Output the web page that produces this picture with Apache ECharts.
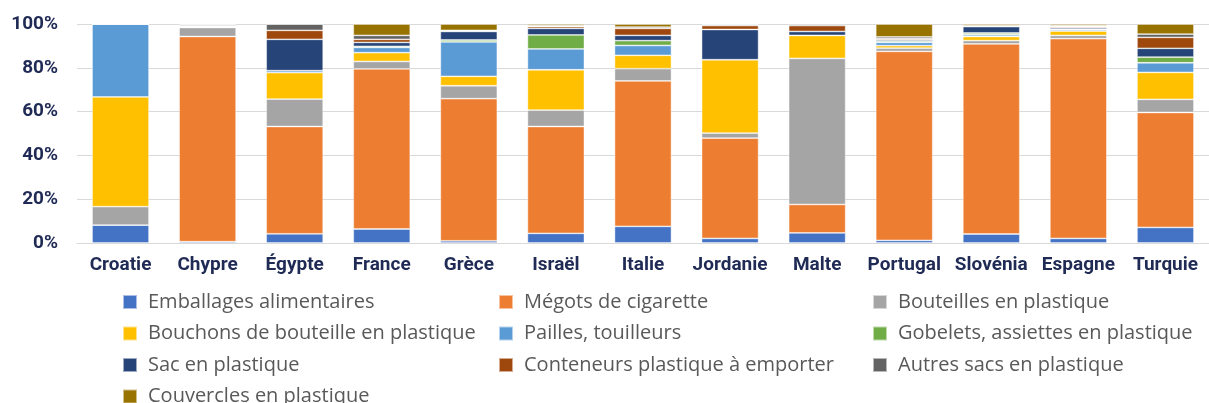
<!DOCTYPE html>
<html><head><meta charset="utf-8">
<script src="https://cdn.jsdelivr.net/npm/echarts@6/dist/echarts.min.js"></script>
<style>html,body{margin:0;padding:0;background:#fff}#c{width:1209px;height:403px}</style>
</head><body><div id="c"></div>
<script>
const categories = ['Croatie','Chypre','Égypte','France','Grèce','Israël','Italie','Jordanie','Malte','Portugal','Slovénia','Espagne','Turquie'];
const emballages = [8.2, 0.6, 4.2, 6.4, 1.0, 4.4, 7.6, 2.1, 4.6, 1.2, 4.1, 2.1, 7.1];
const megots     = [0, 93.7, 49.0, 73.1, 64.9, 48.8, 66.4, 45.8, 13.0, 86.3, 86.8, 91.2, 52.5];
const bouteilles = [8.4, 4.1, 12.5, 3.4, 5.9, 7.5, 5.6, 2.3, 66.7, 1.5, 1.5, 1.5, 6.0];
const bouchons   = [50.1, 0.4, 12.1, 4.0, 4.3, 18.4, 6.1, 33.5, 10.5, 1.1, 1.9, 2.0, 12.3];
const pailles    = [33.3, 0.1, 0.9, 2.4, 15.7, 9.5, 4.5, 0, 0, 1.5, 0.8, 0.7, 4.4];
const gobelets   = [0, 0.1, 0, 0.5, 0.9, 6.4, 2.2, 0, 0, 0.6, 0.8, 0.2, 2.6];
const sac        = [0, 0.2, 14.3, 1.8, 3.9, 3.0, 2.4, 13.8, 1.8, 0.6, 2.9, 0.6, 4.0];
const conteneurs = [0, 0.1, 4.1, 1.4, 0.2, 0.8, 3.2, 1.8, 2.7, 0.5, 0.2, 0.5, 5.0];
const autres     = [0, 0.4, 2.9, 1.8, 0.3, 0.4, 0.6, 0.4, 0.7, 0.8, 0.3, 0.4, 1.5];
const couvercles = [0, 0.3, 0, 5.2, 2.9, 0.8, 1.4, 0.3, 0, 5.9, 0.7, 0.8, 4.6];
const yTicks = [0, 20, 40, 60, 80, 100];

const names = ['Emballages alimentaires','Mégots de cigarette','Bouteilles en plastique','Bouchons de bouteille en plastique','Pailles, touilleurs','Gobelets, assiettes en plastique','Sac en plastique','Conteneurs plastique à emporter','Autres sacs en plastique','Couvercles en plastique'];
const values = [emballages, megots, bouteilles, bouchons, pailles, gobelets, sac, conteneurs, autres, couvercles];
const colors = ['#4472C4','#ED7D31','#A5A5A5','#FFC000','#5B9BD5','#70AD47','#264478','#9E480E','#636363','#997300'];

const legendBase = {
  orient: 'vertical', top: 287, height: 200, itemWidth: 14, itemHeight: 14, itemGap: 11.5,
  icon: 'rect', selectedMode: false,
  textStyle: { fontFamily: 'Open Sans', fontSize: 20, color: '#595959', lineHeight: 20, padding: [0,0,0,6] }
};

const chart = echarts.init(document.getElementById('c'), null, {renderer: 'canvas'});
chart.setOption({
  animation: false,
  color: colors,
  grid: { left: 77, right: -8, top: 24, bottom: 160, containLabel: false },
  legend: [
    Object.assign({}, legendBase, { left: 117, data: [names[0], names[3], names[6], names[9]] }),
    Object.assign({}, legendBase, { left: 493, data: [names[1], names[4], names[7]] }),
    Object.assign({}, legendBase, { left: 867, data: [names[2], names[5], names[8]] })
  ],
  xAxis: {
    type: 'category', data: categories,
    axisLine: { lineStyle: { color: '#D9D9D9', width: 1 } },
    axisTick: { show: false },
    axisLabel: { interval: 0, margin: 13, fontFamily: 'Roboto', fontWeight: 'bold', fontSize: 19, color: '#1F2A55' }
  },
  yAxis: {
    type: 'value', min: yTicks[0], max: yTicks[yTicks.length-1], interval: 20,
    axisLine: { show: false }, axisTick: { show: false },
    splitLine: { lineStyle: { color: '#D9D9D9', width: 1 } },
    axisLabel: { margin: 19, formatter: '{value}%', fontFamily: 'Roboto', fontWeight: 'bold', fontSize: 19, color: '#1F2A55' }
  },
  series: names.map((n, i) => ({
    name: n, type: 'bar', stack: 'total', barWidth: 57,
    data: values[i],
    itemStyle: { color: colors[i], borderColor: 'rgba(255,255,255,0.55)', borderWidth: 0.8 }
  }))
});
</script></body></html>
